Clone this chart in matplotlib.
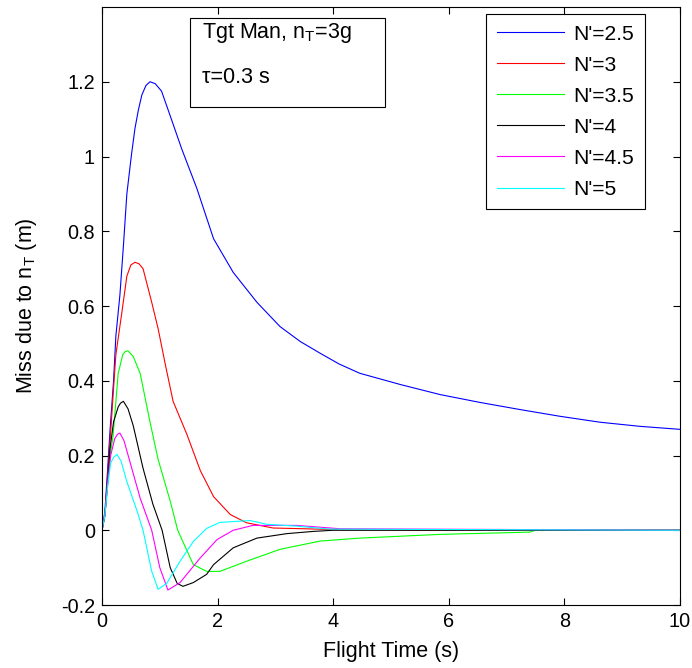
import matplotlib
matplotlib.use("Agg")
import matplotlib.pyplot as plt
from matplotlib.patches import Rectangle
from matplotlib.ticker import FormatStrFormatter

plt.rcParams['font.family'] = ['Liberation Sans', 'DejaVu Sans']
plt.rcParams['mathtext.fontset'] = 'custom'
plt.rcParams['mathtext.rm'] = 'Liberation Sans'
plt.rcParams['mathtext.it'] = 'Liberation Sans:italic'

# values (flight time in s, miss in m)
t_25 = [0, 0.05, 0.1, 0.14, 0.2, 0.24, 0.31, 0.37, 0.43, 0.51, 0.57, 0.63, 0.69, 0.76, 0.83, 0.92,
        1.03, 1.2, 1.38, 1.64, 1.93, 2.27, 2.68, 3.08, 3.43, 3.77, 4.1, 4.46, 5.16, 5.85, 6.54, 7.23,
        7.92, 8.62, 9.31, 10.0]
m_25 = [0, 0.05, 0.17, 0.27, 0.40, 0.52, 0.63, 0.76, 0.90, 1.005, 1.075, 1.125, 1.165, 1.19, 1.2, 1.195,
        1.175, 1.10, 1.02, 0.915, 0.78, 0.69, 0.61, 0.545, 0.505, 0.474, 0.445, 0.42, 0.39, 0.363, 0.342, 0.323,
        0.305, 0.289, 0.278, 0.27]

t_3 = [0, 0.05, 0.1, 0.14, 0.2, 0.24, 0.35, 0.43, 0.5, 0.57, 0.64, 0.71, 0.86, 0.97, 1.1, 1.23,
       1.47, 1.7, 1.93, 2.22, 2.5, 2.96, 3.5, 4.0, 6.0, 10.0]
m_3 = [0, 0.04, 0.15, 0.24, 0.38, 0.47, 0.59, 0.68, 0.71, 0.717, 0.713, 0.70, 0.61, 0.54, 0.44, 0.345,
       0.256, 0.16, 0.09, 0.042, 0.02, 0.006, 0.004, 0.002, 0, 0]

t_35 = [0, 0.05, 0.1, 0.14, 0.19, 0.28, 0.36, 0.4, 0.45, 0.54, 0.66, 0.83, 0.97, 1.18, 1.31, 1.58,
        1.81, 2.04, 2.5, 3.08, 3.77, 4.46, 5.85, 7.4, 7.5, 10.0]
m_35 = [0, 0.04, 0.13, 0.2, 0.25, 0.42, 0.47, 0.478, 0.48, 0.465, 0.42, 0.29, 0.19, 0.078, 0, -0.092,
        -0.11, -0.11, -0.083, -0.051, -0.029, -0.021, -0.011, -0.005, 0, 0]

t_4 = [0, 0.05, 0.1, 0.14, 0.2, 0.28, 0.32, 0.37, 0.45, 0.54, 0.71, 0.88, 1.04, 1.18, 1.3, 1.4,
       1.58, 1.81, 1.93, 2.27, 2.68, 3.2, 3.66, 4.0, 10.0]
m_4 = [0, 0.04, 0.13, 0.22, 0.29, 0.33, 0.34, 0.345, 0.325, 0.28, 0.166, 0.07, 0, -0.1, -0.142, -0.15,
       -0.14, -0.118, -0.092, -0.047, -0.021, -0.009, -0.003, 0, 0]

t_45 = [0, 0.05, 0.1, 0.15, 0.22, 0.27, 0.31, 0.38, 0.48, 0.66, 0.86, 1.0, 1.14, 1.35, 1.7, 1.99,
        2.27, 2.61, 3.37, 4.12, 5.6, 10.0]
m_45 = [0, 0.04, 0.13, 0.2, 0.245, 0.257, 0.26, 0.24, 0.185, 0.086, 0, -0.1, -0.16, -0.14, -0.074, -0.025,
        0, 0.013, 0.013, 0.004, 0.003, 0]

t_5 = [0, 0.05, 0.1, 0.15, 0.2, 0.26, 0.33, 0.43, 0.61, 0.71, 0.86, 0.97, 1.12, 1.35, 1.58, 1.81,
       2.04, 2.56, 2.85, 3.37, 3.94, 10.0]
m_5 = [0, 0.04, 0.12, 0.18, 0.195, 0.203, 0.185, 0.13, 0.05, 0, -0.11, -0.158, -0.142, -0.083, -0.03, 0.005,
       0.021, 0.026, 0.016, 0.011, 0.003, 0]

labels = ["N'=2.5", "N'=3", "N'=3.5", "N'=4", "N'=4.5", "N'=5"]
colors = ['#0000ff', '#ff0000', '#00ff00', '#000000', '#ff00ff', '#00ffff']
series = [(t_25, m_25), (t_3, m_3), (t_35, m_35), (t_4, m_4), (t_45, m_45), (t_5, m_5)]

fig = plt.figure(figsize=(6.92, 6.68), dpi=100)
ax = fig.add_axes([0.1474, 0.0943, 0.8353, 0.8952])

for (t, m), lab, c in zip(series, labels, colors):
    ax.plot(t, m, color=c, lw=0.8, label=lab)

ax.set_xlim(0, 10)
ax.set_ylim(-0.2, 1.4)
ax.set_xticks([0, 2, 4, 6, 8, 10])
ax.set_yticks([-0.2, 0, 0.2, 0.4, 0.6, 0.8, 1.0, 1.2])
ax.yaxis.set_major_formatter(FormatStrFormatter('%g'))
ax.tick_params(direction='in', top=True, right=True, length=5, width=0.8, labelsize=14.3, pad=5)
for s in ax.spines.values():
    s.set_linewidth(0.8)

ax.set_xlabel('Flight Time (s)', fontsize=15.5, labelpad=7)
ax.set_ylabel(r'Miss due to n$_\mathrm{T}$ (m)', fontsize=15.5, labelpad=16)

# annotation box
ax.add_patch(Rectangle((0.152, 0.833), 0.338, 0.149, transform=ax.transAxes,
                       fill=False, edgecolor='black', lw=0.8))
ax.text(0.173, 0.948, r'Tgt Man, n$_\mathrm{T}$=3g', transform=ax.transAxes,
        fontsize=15.5, va='baseline', ha='left')
ax.text(0.173, 0.873, 'τ=0.3 s', transform=ax.transAxes,
        fontsize=15.5, va='baseline', ha='left')

leg = ax.legend(loc='upper right', bbox_to_anchor=(0.939, 0.988), borderaxespad=0,
                fancybox=False, edgecolor='black', framealpha=1, fontsize=15.2,
                handlelength=3.2, handletextpad=0.43, labelspacing=0.57, borderpad=0.5)
leg.get_frame().set_linewidth(0.8)

fig.savefig('out.png', dpi=100)
